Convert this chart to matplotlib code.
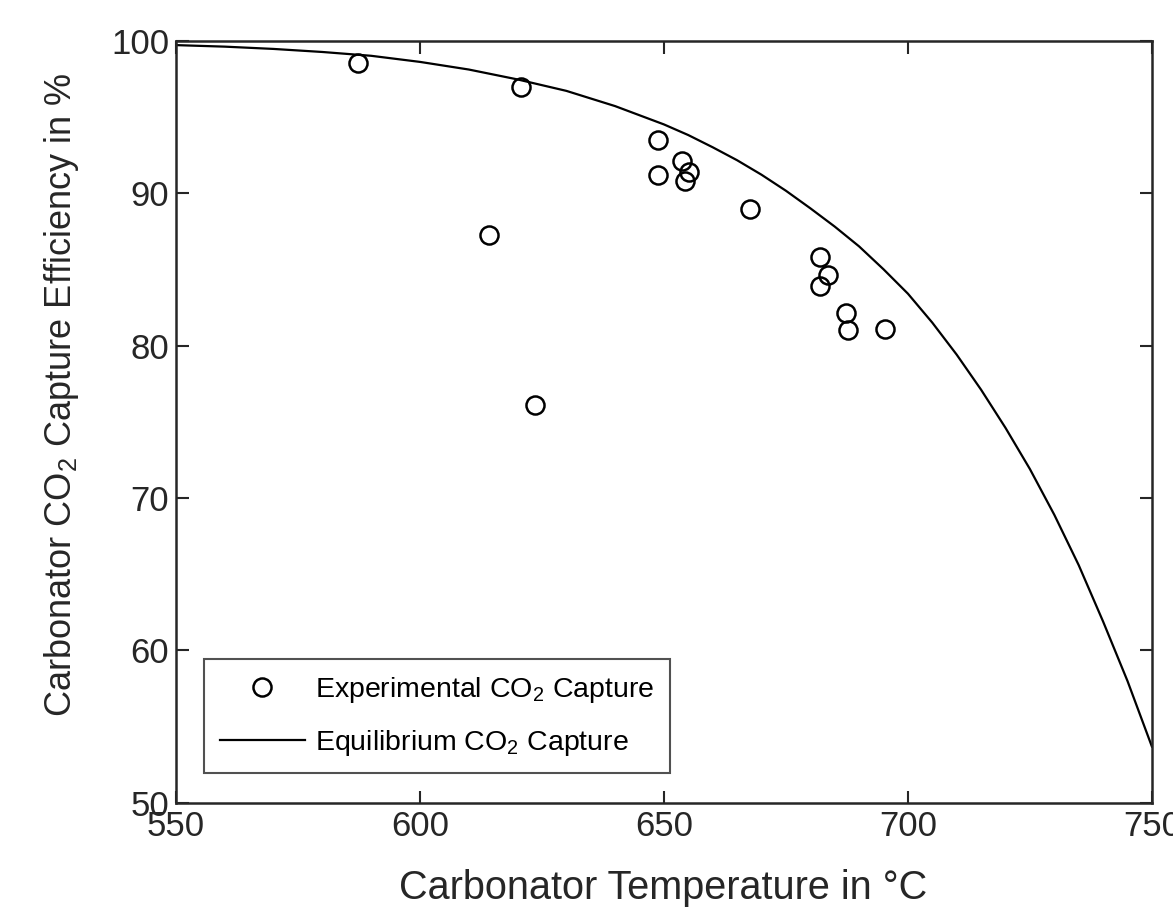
import matplotlib
matplotlib.use("Agg")
import matplotlib.pyplot as plt

# measured capture efficiency vs carbonator temperature
temp_exp = [587.3, 620.7, 614.1, 623.6, 648.8, 648.8, 653.8, 655.2, 654.3,
            667.6, 682.0, 683.7, 681.9, 687.3, 687.8, 695.3]
eff_exp = [98.5, 96.95, 87.25, 76.1, 93.5, 91.2, 92.1, 91.35, 90.8,
           88.95, 85.8, 84.65, 83.9, 82.1, 81.05, 81.1]

# equilibrium curve
temp_eq = [550, 560, 570, 580, 590, 600, 610, 620, 630, 640, 650, 655, 660,
           665, 670, 675, 680, 685, 690, 695, 700, 705, 710, 715, 720, 725,
           730, 735, 740, 745, 750]
eff_eq = [99.7, 99.6, 99.45, 99.25, 99.0, 98.6, 98.1, 97.45, 96.7, 95.7,
          94.5, 93.8, 93.0, 92.15, 91.2, 90.15, 89.0, 87.8, 86.5, 85.0,
          83.4, 81.5, 79.4, 77.1, 74.6, 71.9, 68.9, 65.6, 61.9, 58.0, 53.7]

xticks = [550, 600, 650, 700, 750]
yticks = [50, 60, 70, 80, 90, 100]

plt.rcParams['font.family'] = ['Liberation Sans', 'DejaVu Sans']
plt.rcParams['mathtext.fontset'] = 'custom'
plt.rcParams['mathtext.rm'] = 'Liberation Sans'
plt.rcParams['mathtext.default'] = 'regular'

dark = '#262626'
fig = plt.figure(figsize=(11.73, 9.07), dpi=100)
ax = fig.add_axes([0.150, 0.1147, 0.832, 0.8406])

ax.plot(temp_exp, eff_exp, 'o', ms=13, mfc='none', mec='black', mew=1.8,
        label='Experimental CO$_2$ Capture')
ax.plot(temp_eq, eff_eq, '-', color='black', lw=1.6,
        label='Equilibrium CO$_2$ Capture')

ax.set_xlim(550, 750)
ax.set_ylim(50, 100)
ax.set_xticks(xticks)
ax.set_yticks(yticks)
ax.tick_params(direction='in', length=9, width=1.5, top=True, right=True,
               labelsize=25, colors=dark, pad=5)
for s in ax.spines.values():
    s.set_linewidth(1.8)
    s.set_color(dark)

ax.set_xlabel('Carbonator Temperature in °C', fontsize=28.5, color=dark)
ax.set_ylabel('Carbonator CO$_2$ Capture Efficiency in %', fontsize=26, color=dark)
ax.xaxis.set_label_coords(0.4995, -0.086)
ax.yaxis.set_label_coords(-0.0975, 0.535)

leg = ax.legend(loc='lower left', bbox_to_anchor=(0.0287, 0.039), borderaxespad=0,
                fontsize=20.5, handlelength=3.0, handletextpad=0.35, borderpad=0.55,
                labelspacing=0.8, fancybox=False, numpoints=1)
leg.get_frame().set_edgecolor(dark)
leg.get_frame().set_linewidth(1.5)

fig.savefig('out.png', dpi=100)
